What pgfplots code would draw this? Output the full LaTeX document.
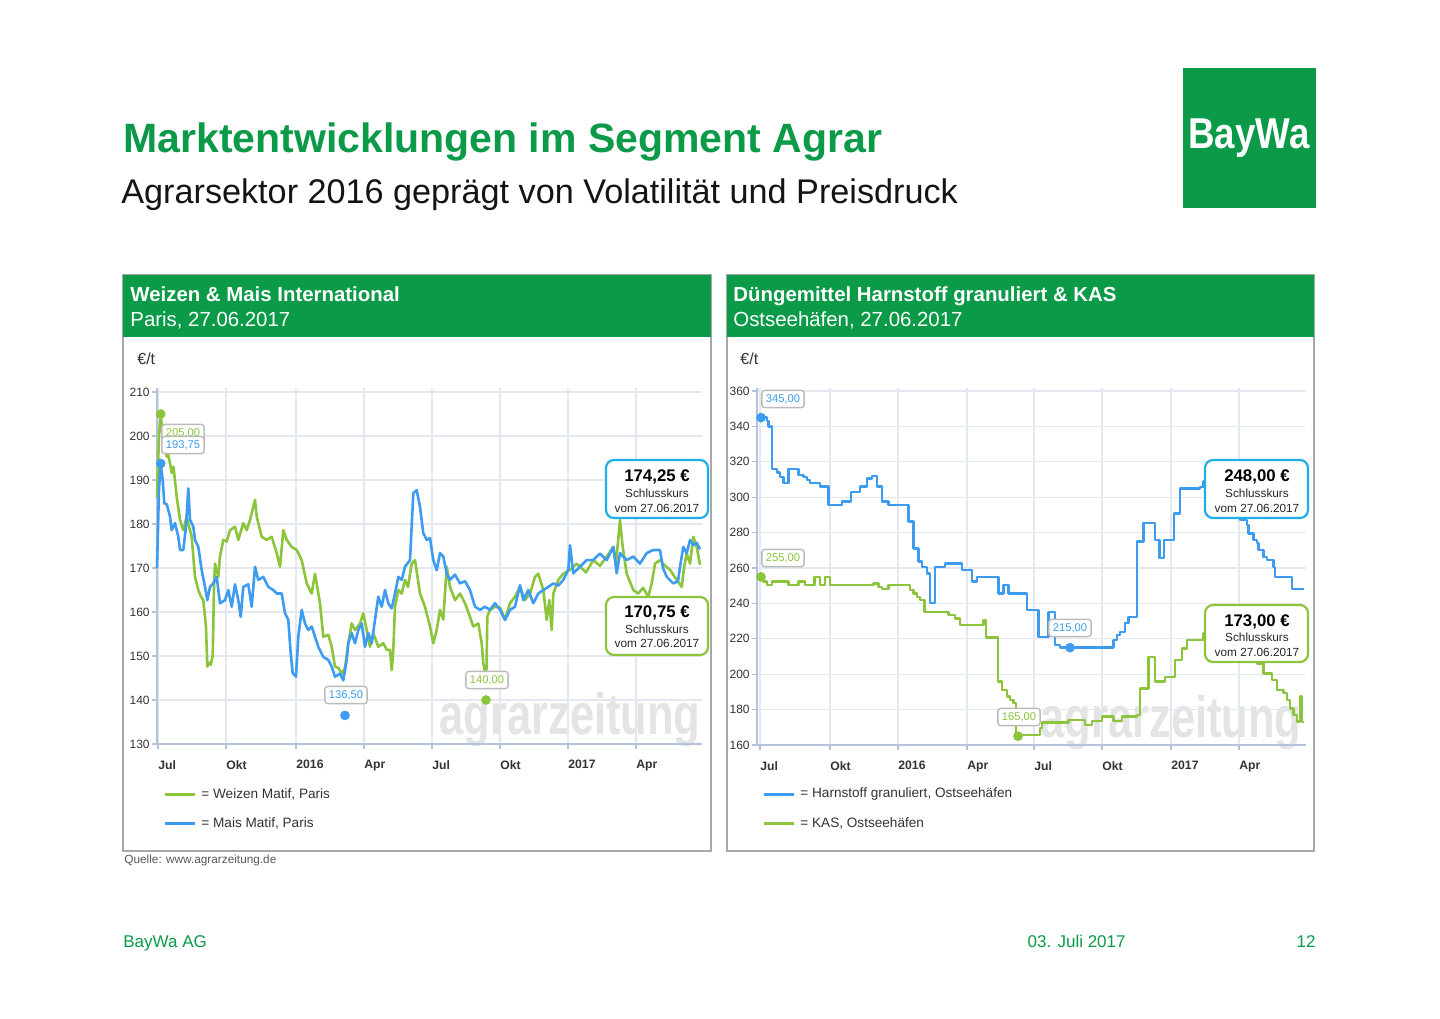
\documentclass[border=0pt]{standalone}
\usepackage{fontspec}
\setmainfont{Liberation Sans}
\usepackage{pgfplots}
\pgfplotsset{compat=1.18}
\definecolor{baygreen}{HTML}{0A9A48}
\definecolor{wgreen}{HTML}{8CC43C}
\definecolor{mblue}{HTML}{3D9CF0}
\definecolor{calblue}{HTML}{1EAEE8}
\definecolor{gridcol}{HTML}{E3E7EF}
\definecolor{axiscol}{HTML}{B4C3DA}
\definecolor{panelgray}{HTML}{A8A8A8}
\definecolor{labgray}{HTML}{BBBBBB}
\definecolor{wmark}{HTML}{E4E4E4}
\definecolor{txt}{HTML}{333333}
\pgfplotsset{
  chartstyle/.style={
    scale only axis,
    /pgf/number format/assume math mode=true,
    axis x line*=bottom, axis y line*=left,
    axis line style={draw=axiscol, line width=0.8pt},
    grid=major, major grid style={draw=gridcol, line width=0.6pt},
    tick align=outside, major tick length=2.5pt,
    tick style={draw=axiscol, line width=0.6pt},
    yticklabel style={font=\fontsize{6}{6}\selectfont, text=txt, inner sep=1pt},
    xticklabel style={anchor=north west, font=\bfseries\fontsize{6.1}{7}\selectfont, text=txt, inner sep=0pt, yshift=-5.5pt, xshift=0pt},
    clip=false,
  }
}
\begin{document}
\begin{tikzpicture}
\begin{scope}[x=0.5pt,y=-0.5pt]
\fill[white] (0,0) rectangle (1440,1018);
% title
\node[anchor=base west, inner sep=0pt, text=baygreen, font=\bfseries\fontsize{20.5}{24}\selectfont] at (123,152) {Marktentwicklungen im Segment Agrar};
\node[anchor=base west, inner sep=0pt, text=black!92, font=\fontsize{17.1}{20}\selectfont] at (121,203) {Agrarsektor 2016 geprägt von Volatilität und Preisdruck};
% logo
\fill[baygreen] (1183,68) rectangle (1316,208);
\node[anchor=base, inner sep=0pt, text=white, font=\bfseries\fontsize{21.6}{24}\selectfont, xscale=0.85] at (1249,148) {BayWa};
% panels
\draw[panelgray, line width=1pt] (123,275) rectangle (711,851);
\draw[panelgray, line width=1pt] (727,275) rectangle (1314,851);
\fill[baygreen] (123,275) rectangle (711,337);
\fill[baygreen] (727,275) rectangle (1314,337);
\node[anchor=base west, inner sep=0pt, text=white, font=\bfseries\fontsize{10.2}{12}\selectfont] at (130,301) {Weizen \& Mais International};
\node[anchor=base west, inner sep=0pt, text=white, font=\fontsize{10.2}{12}\selectfont] at (130,326) {Paris, 27.06.2017};
\node[anchor=base west, inner sep=0pt, text=white, font=\bfseries\fontsize{10.2}{12}\selectfont] at (733,301) {Düngemittel Harnstoff granuliert \& KAS};
\node[anchor=base west, inner sep=0pt, text=white, font=\fontsize{10.2}{12}\selectfont] at (733,326) {Ostseehäfen, 27.06.2017};
\node[anchor=base west, inner sep=0pt, text=txt, font=\fontsize{8}{9}\selectfont] at (137,364) {€/t};
\node[anchor=base west, inner sep=0pt, text=txt, font=\fontsize{8}{9}\selectfont] at (740,364) {€/t};
% watermarks
\node[anchor=base, inner sep=0pt, text=wmark, font=\bfseries\fontsize{29}{30}\selectfont, xscale=0.75] at (570,734) {agrarzeitung};
\node[anchor=base, inner sep=0pt, text=wmark, font=\bfseries\fontsize{29}{30}\selectfont, xscale=0.75] at (1171,737) {agrarzeitung};
% source & footer
\node[anchor=base west, inner sep=0pt, text=black!65, font=\fontsize{5.9}{7}\selectfont] at (124,863) {Quelle: www.agrarzeitung.de};
\node[anchor=base west, inner sep=0pt, text=baygreen, font=\fontsize{8.5}{10}\selectfont] at (123,947) {BayWa AG};
\node[anchor=base east, inner sep=0pt, text=baygreen, font=\fontsize{8.5}{10}\selectfont] at (1126,947) {03. Juli 2017};
\node[anchor=base east, inner sep=0pt, text=baygreen, font=\fontsize{8.5}{10}\selectfont] at (1316,947) {12};
% legends
\draw[wgreen, line width=1.5pt] (165,794) -- (195,794);
\node[anchor=west, inner sep=0pt, text=txt, font=\fontsize{6.8}{8}\selectfont] at (201,794) {= Weizen Matif, Paris};
\draw[mblue, line width=1.5pt] (165,823) -- (195,823);
\node[anchor=west, inner sep=0pt, text=txt, font=\fontsize{6.8}{8}\selectfont] at (201,823) {= Mais Matif, Paris};
\draw[mblue, line width=1.5pt] (764,794) -- (794,794);
\node[anchor=west, inner sep=0pt, text=txt, font=\fontsize{6.8}{8}\selectfont] at (800,794) {= Harnstoff granuliert, Ostseehäfen};
\draw[wgreen, line width=1.5pt] (764,823) -- (794,823);
\node[anchor=west, inner sep=0pt, text=txt, font=\fontsize{6.8}{8}\selectfont] at (800,823) {= KAS, Ostseehäfen};
\end{scope}

% ---------- left chart ----------
\begin{axis}[chartstyle, at={(78.5pt,-372pt)}, anchor=south west,
  width=272.5pt, height=178.2pt, xmin=157, xmax=702, ymin=130, ymax=211,
  ytick={130,140,...,210},
  xtick={158,226,296,364,432,500,568,636},
  xticklabels={Jul,Okt,2016,Apr,Jul,Okt,2017,Apr}]
\addplot[wgreen, line width=1.3pt, line join=round] coordinates {
(157,186) (159,200) (160.7,205.2) (163,199) (166.7,195.3) (168,196) (170,193.8) (171.7,191.6) (173.5,193) (176.7,186.2) (180,180.9) (183.3,178.6) (186.7,181.7) (189,179.5) (191.7,177.1) (195,168) (198.3,165) (201,163.5) (203.3,162.7) (206,156.7) (207.3,147.6) (209,148.5) (210.7,148) (212.7,150) (214,165.7) (215,171) (218.3,168) (220,172.6) (223.3,176.4) (226.7,176) (230,178.6) (235,179.4) (238.3,176.4) (243.3,180.2) (246.7,178.6) (250,180.9) (253.3,183.9) (255,185.5) (256.7,181.7) (261.7,177.1) (266.7,176.4) (271.7,177.1) (276.7,173.4) (280,170.3) (283.3,178.6) (286.7,176.4) (291.7,174.8) (296.7,174.1) (301.7,171.8) (306.7,166.5) (311.7,164.2) (315,168.7) (320,162) (323.3,154.4) (328.3,154.8) (331.7,152.1) (335,147.6) (338.3,147.3) (341.7,146) (345,147.3) (348.3,152.9) (351.7,157.4) (355,155.9) (360,157.4) (363.3,159.7) (366.7,155.9) (370,152.1) (373.3,155.2) (378.3,152.1) (383.3,152.9) (386.7,151.4) (390,151.4) (391.7,146.8) (393.3,151.4) (395,161.2) (398.3,165) (401.7,164.2) (405,167.3) (408,165.7) (411.7,171) (415,171.8) (420,164.2) (425,161.2) (430,156.7) (433.3,152.9) (436.7,155.9) (440,160.5) (443.3,158.3) (446.7,170.3) (450,165.7) (455,162.7) (460,164.2) (465,162) (470,158.9) (473.3,156.7) (478.3,157.4) (481.7,152.9) (483.3,148.3) (485,146.5) (486.5,147) (487.3,158.9) (490,160.5) (495,161.2) (500,161) (505,158.3) (510,162) (515,163.5) (520,165.7) (525,162.7) (530,164.2) (535,168) (538.3,168.7) (543.3,165) (546.7,158.2) (549.3,162.7) (551.7,155.9) (553.3,164.2) (558.3,167.3) (563.3,168.7) (570,169.6) (576.7,171) (580,170.3) (586,169) (593.3,171.8) (600,170.5) (606.7,172.6) (613.3,174.8) (616,171) (620,180.9) (622.7,174.8) (626.7,168.7) (633.3,165) (638.3,164.2) (643,165.5) (648.3,163.5) (651.7,166.5) (655,171) (660,171.8) (665,170.5) (670,169.6) (676.7,167.3) (681.7,165.7) (684,170) (686.7,173.3) (690,171) (693.3,177.1) (696.7,174.8) (700,170.75)
};
\addplot[mblue, line width=1.3pt, line join=round] coordinates {
(157,170) (159,188) (160.7,193.6) (162.7,190) (164.3,184.7) (166.7,184.5) (170,181.7) (171.7,178.6) (175,180.2) (178.3,177.1) (180,174.1) (183.3,174.1) (186,179.4) (188.3,188.1) (190,181) (193.3,179.4) (195,176.4) (198.3,174.8) (201.7,169.5) (205,165.7) (207.3,162.7) (210,165.7) (213.3,166.5) (216.7,168) (220,162) (225,162.7) (228.3,165) (231.7,161.2) (235,166.3) (238.3,162.7) (240.7,158.9) (243.3,165.7) (248.3,166.3) (251.7,161.2) (255,170.3) (258.3,167.3) (263.3,168) (268.3,165.7) (273.3,165) (276.7,164.2) (281.7,164.2) (285,159.7) (288.3,158.2) (290.7,150.6) (292.7,146.1) (296,145.3) (298.3,154.4) (301.7,160.5) (305,157.4) (308.3,155.9) (311.7,156.7) (315,154.4) (318.3,152.1) (323.3,149.8) (328.3,149.1) (331.7,147.6) (335,145.3) (340,146) (343.3,144.5) (346.7,149.1) (348.3,152.9) (351.7,155.2) (355,152.9) (358.3,155.9) (361.7,157.4) (365,152.1) (368.3,155.2) (371.7,152.9) (375,158.2) (378.3,163.5) (381.7,161.2) (385,165) (388.3,162) (391.7,160.8) (395,164.2) (398.3,168) (401.7,167.3) (405,170.3) (410,171.8) (413.3,187) (416.7,187.7) (420,183.9) (423.3,177.9) (426.7,176.4) (430,176.8) (433.3,171.8) (436.7,169.5) (440,173.4) (443.3,172.6) (446.7,168.8) (450,167.3) (455,168.5) (460,166.5) (465,167) (470,165) (475,161.2) (480,160.5) (485,161.2) (490,160.5) (495,162) (500,160.5) (505,158.2) (510,160.5) (515,161.2) (520,166.1) (523.3,162.7) (528.3,165) (533.3,162) (538.3,164.2) (543.3,165) (548.3,165.7) (553.3,166.5) (558.3,166) (563.3,167.3) (568.3,169.6) (570,175.2) (573.3,168.8) (580,170.3) (586.7,171.8) (593,171.8) (600,173.3) (606.7,171.8) (613.3,174.8) (616.7,168.8) (620,173.4) (626.7,171.8) (633.3,172.6) (640,171) (646.7,173.4) (653.3,174.1) (660,174.1) (663,170) (666.7,168) (673.3,166.5) (678,167) (680,170.3) (683.3,174.8) (686.7,173.4) (690,176.4) (693.3,175.2) (696.7,175.7) (700,174.25)
};
\addplot[only marks, mark=*, mark size=2.2pt, color=wgreen] coordinates {(160.7,205) (486,140)};
\addplot[only marks, mark=*, mark size=2.2pt, color=mblue] coordinates {(160.7,193.75) (345,136.5)};
\end{axis}

% ---------- right chart ----------
\begin{axis}[chartstyle, at={(378.5pt,-372.5pt)}, anchor=south west,
  width=274.5pt, height=178.75pt, xmin=757, xmax=1306, ymin=160, ymax=362,
  ytick={160,180,...,360},
  xtick={760,830,898,967,1034,1102,1171,1239},
  xticklabels={Jul,Okt,2016,Apr,Jul,Okt,2017,Apr}]
\addplot[mblue, line width=1.2pt, const plot, line join=round] coordinates {
(758,345) (766.7,343) (768.3,340) (771.7,316) (776.7,314) (780,311.6) (783.3,308) (788.3,316) (798.3,312.5) (803.3,311.5) (806.7,309.7) (810,308) (820,306) (828.3,295.6) (841.7,297.5) (851,303) (860,306) (866.7,310.7) (871.7,312) (876.7,306) (881.7,297.5) (888.3,295.6) (908.3,286.2) (913.3,271.1) (918.3,263.6) (921.7,260.7) (926.7,257) (930,240.4) (935,260.7) (945,262.6) (961.7,259) (971.7,252.3) (976.7,255.1) (998.3,245.7) (1003.3,250.4) (1008.3,245.7) (1026.7,236.3) (1038.3,221.2) (1048.3,235.3) (1055,216.5) (1060,215) (1113.3,219.3) (1116.7,222.1) (1120,224) (1125,228.8) (1128.3,232.5) (1136.7,275) (1143.3,285.6) (1155,275.8) (1159.3,265.5) (1164,275.8) (1174,290.9) (1180,305) (1200,305.9) (1203.3,308.8) (1240,287.1) (1246.7,284.3) (1248.3,279.6) (1253.3,275.8) (1256.7,274) (1258.3,270.2) (1263.3,266.4) (1266.7,264.5) (1273.3,260.7) (1275,255.1) (1291.7,248) (1304,248)
};
\addplot[wgreen, line width=1.2pt, const plot, line join=round] coordinates {
(758,256) (763.3,252.3) (766.7,250.4) (771.7,252.3) (788.3,250.4) (798.3,252.3) (805,250.4) (814.3,255.1) (820,250.4) (825,255.1) (830,250.4) (873.3,251.3) (878.3,249.4) (881.7,248) (888.3,250.4) (910,247.6) (913.3,245.7) (916.7,243.8) (920,241.9) (924.3,235.3) (948.3,233.4) (955,231.5) (960,227.8) (983.3,230.6) (985.7,220.8) (997.7,195.8) (1001.7,191.1) (1006.7,187.3) (1010,185.4) (1013.3,183.6) (1016,165.8) (1040,169.6) (1041.7,172.8) (1068.3,174) (1085,171.3) (1091.7,173.4) (1101.7,176) (1113.3,173.4) (1121.7,176) (1136.7,176.9) (1140,192) (1148.3,209.9) (1155,195.8) (1165,198.6) (1175,208) (1181.7,214.6) (1186.7,219.3) (1203.3,223.1) (1240,215) (1250,210) (1256.7,206.1) (1263.3,200.5) (1271.7,196.7) (1276.7,191.1) (1283.3,189.3) (1286.7,185.5) (1290,180.7) (1293.3,177) (1296.7,173.2) (1300,187.3) (1301.7,173) (1304,173)
};
\addplot[only marks, mark=*, mark size=2.2pt, color=mblue] coordinates {(761,345) (1070,215)};
\addplot[only marks, mark=*, mark size=2.2pt, color=wgreen] coordinates {(761,255) (1018,165)};
\end{axis}

\begin{scope}[x=0.5pt,y=-0.5pt]
% marker labels
\tikzset{lab/.style={draw=labgray, line width=0.7pt, fill=white, rounded corners=1.5pt, inner sep=2pt, font=\fontsize{5.6}{6}\selectfont}}
\node[lab, text=wgreen] at (183,433) {205,00};
\node[lab, text=mblue] at (183,445) {193,75};
\node[lab, text=mblue] at (346,695) {136,50};
\node[lab, text=wgreen] at (487,680) {140,00};
\node[lab, text=mblue] at (783,399) {345,00};
\node[lab, text=wgreen] at (783,558) {255,00};
\node[lab, text=mblue] at (1070,628) {215,00};
\node[lab, text=wgreen] at (1019,717) {165,00};
% callouts
\tikzset{big/.style={anchor=base, inner sep=0pt, font=\bfseries\fontsize{8.4}{9}\selectfont, text=black},
         sm/.style={anchor=base, inner sep=0pt, font=\fontsize{5.9}{6}\selectfont, text=black!85}}
\draw[calblue, line width=1.1pt, fill=white, rounded corners=4pt] (606,460) rectangle (708,518);
\node[big] at (657,481) {174,25 €};
\node[sm] at (657,497) {Schlusskurs};
\node[sm] at (657,512) {vom 27.06.2017};
\draw[wgreen, line width=1.1pt, fill=white, rounded corners=4pt] (606,597) rectangle (708,655);
\node[big] at (657,617) {170,75 €};
\node[sm] at (657,633) {Schlusskurs};
\node[sm] at (657,647) {vom 27.06.2017};
\draw[calblue, line width=1.1pt, fill=white, rounded corners=4pt] (1205,460) rectangle (1308,518);
\node[big] at (1257,481) {248,00 €};
\node[sm] at (1257,497) {Schlusskurs};
\node[sm] at (1257,512) {vom 27.06.2017};
\draw[wgreen, line width=1.1pt, fill=white, rounded corners=4pt] (1205,605) rectangle (1308,662);
\node[big] at (1257,626) {173,00 €};
\node[sm] at (1257,641) {Schlusskurs};
\node[sm] at (1257,656) {vom 27.06.2017};
\end{scope}
\end{tikzpicture}
\end{document}
